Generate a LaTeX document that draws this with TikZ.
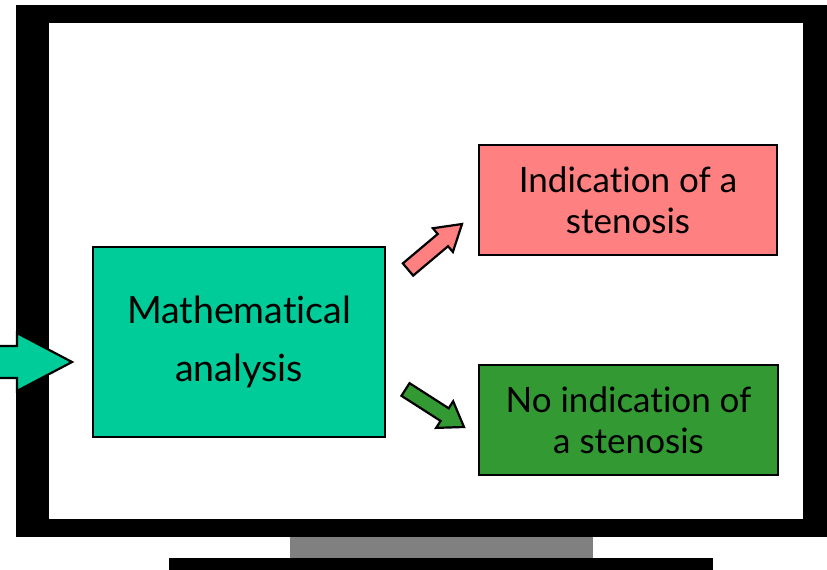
\documentclass[tikz,border=0pt]{standalone}
\usepackage{fontspec}
\setmainfont{Lato}[Ligatures=NoCommon]
\usetikzlibrary{calc}
\definecolor{teal1}{RGB}{0,204,153}
\definecolor{rose1}{RGB}{255,128,128}
\definecolor{leaf1}{RGB}{51,153,51}
\definecolor{stand1}{RGB}{128,128,128}
% block arrow: fill, tail, tip, half shaft, half head, head length
\newcommand\blockarrow[6]{%
  \coordinate (hb) at ($(#3)!#6!(#2)$);
  \draw[fill=#1,line width=2.2pt,line join=miter]
    ($(#2)!#4!90:(#3)$) -- ($(hb)!#4!-90:(#2)$) -- ($(hb)!#5!-90:(#2)$) -- (#3)
    -- ($(hb)!#5!90:(#2)$) -- ($(hb)!#4!90:(#2)$) -- ($(#2)!#4!-90:(#3)$) -- cycle;}
\begin{document}
\begin{tikzpicture}[x=1pt,y=-1pt,
    box/.style={draw,line width=2pt,align=center,inner sep=0pt}]
  \useasboundingbox (0,0) rectangle (827,570);
  % screen
  \fill[black] (16,5) rectangle (827,537);
  \fill[white] (49,23) rectangle (803,519);
  \fill[stand1] (290,537) rectangle (593,559);
  \fill[black] (169,558) rectangle (713,570);
  \node[box,fill=teal1,minimum width=292pt,minimum height=190pt,font=\fontsize{37.5}{58}\selectfont] (math) at (239,342) {Mathematical\\analysis};
  \node[box,fill=rose1,minimum width=298pt,minimum height=110pt,font=\fontsize{35}{41}\selectfont] (yes) at (628,200) {Indication of a\\stenosis};
  \node[box,fill=leaf1,minimum width=299pt,minimum height=110pt,font=\fontsize{35}{41}\selectfont] (no) at (628.5,420) {No indication of\\a stenosis};
  \coordinate (in0) at (-10,362);
  \coordinate (in1) at (72,362);
  \coordinate (up0) at (408,269.5);
  \coordinate (up1) at (462,224);
  \coordinate (dn0) at (405.5,389.5);
  \coordinate (dn1) at (464,427);
  \blockarrow{teal1}{in0}{in1}{16pt}{29pt}{55pt}
  \blockarrow{rose1}{up0}{up1}{8pt}{15.5pt}{25pt}
  \blockarrow{leaf1}{dn0}{dn1}{7.5pt}{15.8pt}{23pt}
\end{tikzpicture}
\end{document}
